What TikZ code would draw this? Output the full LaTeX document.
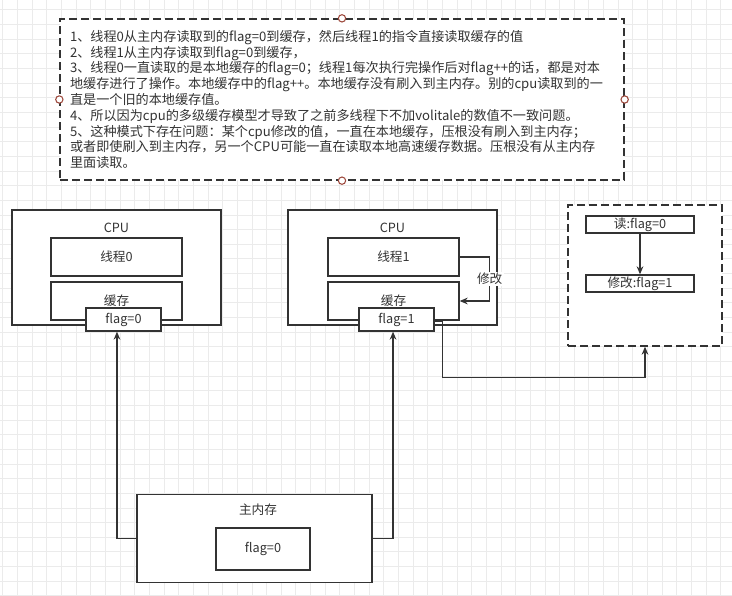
\documentclass[tikz,border=0pt]{standalone}
\usepackage{fontspec}
\setmainfont{Noto Sans CJK SC}
\usepackage{tikz}
\usetikzlibrary{positioning, arrows.meta, calc}
\definecolor{lineGray}{HTML}{333333}
\definecolor{gridGray}{HTML}{EBEBEB}
\definecolor{handleRed}{HTML}{9E4A3E}

\begin{document}
\begin{tikzpicture}[x=0.75pt, y=-0.75pt,
        font=\fontsize{9.5}{11.6}\selectfont, >=Stealth,
        sz/.style 2 args={minimum width=#1*0.75pt, minimum height=#2*0.75pt},
        box/.style={draw=lineGray, line width=1pt, fill=white, text=lineGray, inner sep=0pt, align=center},
        dbox/.style={box, dash pattern=on 6pt off 3pt},
        handle/.style={circle, draw=handleRed, fill=white, line width=0.8pt, inner sep=0pt, minimum size=5.5pt},
        lbl/.style={text=lineGray, inner sep=1pt},
        arr/.style={-{Stealth[length=6pt, width=5pt]}, draw=lineGray, line width=1pt},
        gridline/.style={draw=gridGray, line width=0.5pt}]
        \useasboundingbox (0,0) rectangle (732,596);
        \foreach \gx in {0,...,49} \draw[gridline] ({2.8+14.65*\gx},0) -- ++(0,596);
        \foreach \gy in {0,...,40} \draw[gridline] (0,{9.75+14.65*\gy}) -- ++(732,0);
        \node[dbox, sz={564}{161}, text width=408pt, align=left, inner xsep=7.5pt,
              font=\fontsize{9.85}{11.85}\selectfont] (note) at (342,99.5)
              {1、线程0从主内存读取到的flag=0到缓存，然后线程1的指令直接读取缓存的值\\
               2、线程1从主内存读取到flag=0到缓存，\\
               3、线程0一直读取的是本地缓存的flag=0；线程1每次执行完操作后对flag++的话，都是对本\\
               地缓存进行了操作。本地缓存中的flag++。本地缓存没有刷入到主内存。别的cpu读取到的一\\
               直是一个旧的本地缓存值。\\
               4、所以因为cpu的多级缓存模型才导致了之前多线程下不加volitale的数值不一致问题。\\
               5、这种模式下存在问题：某个cpu修改的值，一直在本地缓存，压根没有刷入到主内存；\\
               或者即使刷入到主内存，另一个CPU可能一直在读取本地高速缓存数据。压根没有从主内存\\
               里面读取。};
        \foreach \h in {north, west, east, south} \node[handle] at (note.\h) {};
        \node[box, sz={209}{115}] (cpu0) at (116.5,267.5) {};
        \node[lbl] (cpu0t) at (116.5,228) {CPU};
        \node[box, sz={131}{38}] (thr0) at (116.5,257) {线程0};
        \node[box, sz={131}{38}] (cache0) at (116.5,301) {缓存};
        \node[box, sz={75}{23}] (flag0) at (123.5,319.5) {flag=0};
        \node[box, sz={209}{115}] (cpu1) at (392.5,267.5) {};
        \node[lbl] (cpu1t) at (392.5,228) {CPU};
        \node[box, sz={131}{38}] (thr1) at (393.5,257) {线程1};
        \node[box, sz={131}{38}] (cache1) at (393.5,301) {缓存};
        \node[box, sz={75}{23}] (flag1) at (396.5,319.5) {flag=1};
        \node[dbox, sz={154}{141}] (watch) at (645,275.5) {};
        \node[box, sz={108}{17}] (rd) at (640,224.5) {读:flag=0};
        \node[box, sz={108}{17}] (wr) at (640,283.5) {修改:flag=1};
        \node[box, sz={235}{88}] (mem) at (254.5,538.5) {};
        \node[lbl] (memt) at (258,510) {主内存};
        \node[box, sz={94}{42}] (memflag) at (263,549) {flag=0};
        \draw[arr] (thr1.east) -- ++(30,0) |- node[pos=0.25, fill=white, text=lineGray, inner sep=1pt] (modt) {修改} (cache1.east);
        \draw[arr] (rd) -- (wr);
        \draw[arr] ([yshift=-1.5pt]flag1.east) -- ++(8,0) |- ($(watch.south)+(0,31)$) -- (watch.south);
        \draw[arr] (mem.west) -| ([xshift=-4.9pt]flag0.south);
        \draw[arr] (mem.east) -| ([xshift=-2.6pt]flag1.south);
      \end{tikzpicture}
\end{document}
